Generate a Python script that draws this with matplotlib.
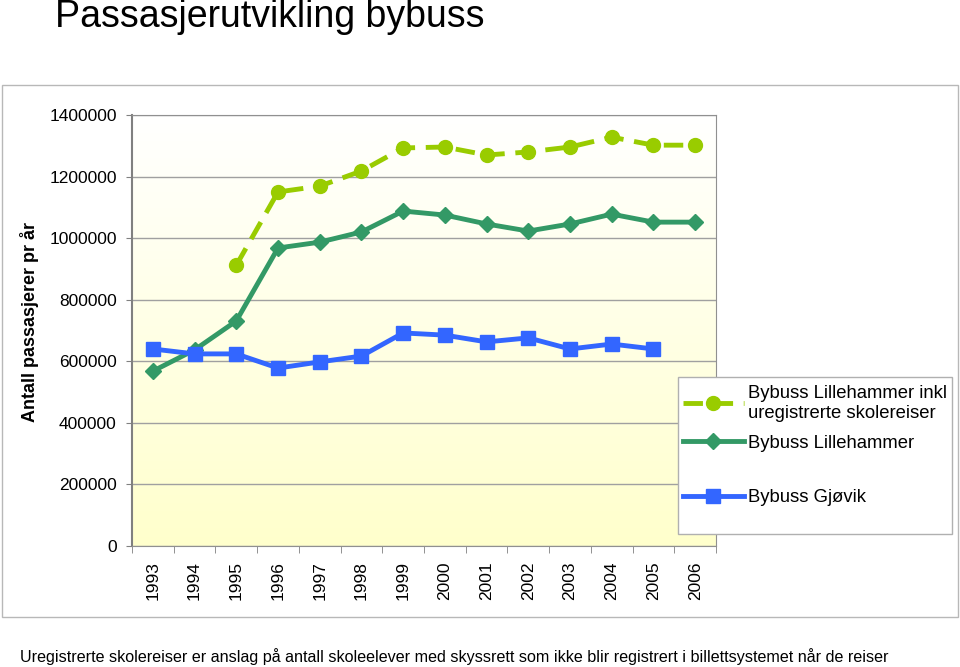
import matplotlib.pyplot as plt
import numpy as np
from matplotlib.patches import Rectangle

plt.rcParams['font.family'] = ['Liberation Sans', 'DejaVu Sans']

aar = ['1993', '1994', '1995', '1996', '1997', '1998', '1999',
       '2000', '2001', '2002', '2003', '2004', '2005', '2006']

# Bybuss Lillehammer inkl uregistrerte skolereiser (fra 1995)
lh_inkl = [np.nan, np.nan, 912000, 1150000, 1169000, 1218000, 1293000,
           1296000, 1270000, 1280000, 1296000, 1328000, 1302000, 1302000]
# Bybuss Lillehammer
lh = [568000, 637000, 731000, 968000, 987000, 1020000, 1088000,
      1075000, 1046000, 1023000, 1046000, 1078000, 1052000, 1052000]
# Bybuss Gjøvik (til 2005)
gjovik = [640000, 624000, 624000, 578000, 598000, 617000, 692000,
          685000, 663000, 676000, 640000, 656000, 640000, np.nan]

fig = plt.figure(figsize=(9.6, 6.67), dpi=100)
ax = fig.add_axes([132/960, 1-546/667, 584/960, 431/667])

# bakgrunn: hvit oppe -> lys gul nede
grad = np.linspace(0, 1, 256)
farger = np.ones((256, 1, 3))
farger[:, 0, 2] = 1 - 0.2 * grad
ax.imshow(farger, extent=[0, 1, 0, 1], transform=ax.transAxes,
          aspect='auto', zorder=0, origin='upper')

x = np.arange(len(aar))
l1, = ax.plot(x, lh_inkl, color='#99CC00', lw=3.5, linestyle=(0, (4, 2.2)),
              marker='o', ms=10, label='Bybuss Lillehammer inkl\nuregistrerte skolereiser', zorder=3)
l2, = ax.plot(x, lh, color='#339966', lw=3.5, marker='D', ms=8,
              label='Bybuss Lillehammer', zorder=3)
l3, = ax.plot(x, gjovik, color='#3366FF', lw=3.5, marker='s', ms=10,
              label='Bybuss Gjøvik', zorder=3)

ax.set_xlim(-0.5, len(aar) - 0.5)
ax.set_ylim(0, 1400000)
ax.set_yticks(np.arange(0, 1400001, 200000))
ax.set_yticklabels([f'{v:d}' for v in range(0, 1400001, 200000)], fontsize=12.5)
ax.yaxis.grid(True, color='#a0a0a0', lw=1)
ax.set_axisbelow(True)
ax.tick_params(axis='y', length=4, pad=7, color='#808080')

ax.set_xticks(x)
ax.set_xticklabels(aar, rotation=90, fontsize=12.5)
ax.set_xticks(np.arange(-0.5, len(aar)), minor=True)
ax.tick_params(axis='x', which='major', length=0, pad=11)
ax.tick_params(axis='x', which='minor', length=5, color='#808080')
for s in ax.spines.values():
    s.set_color('#909090')
ax.spines['left'].set_color('#808080')
ax.spines['left'].set_linewidth(1.5)

fig.text(55/960, 1-17/667, 'Passasjerutvikling bybuss', fontsize=27, va='center', ha='left')
fig.text(30/960, 1-322/667, 'Antall passasjerer pr år', fontsize=13,
         fontweight='bold', rotation=90, va='center', ha='center')
fig.text(20/960, 1-657/667,
         'Uregistrerte skolereiser er anslag på antall skoleelever med skyssrett som ikke blir registrert i billettsystemet når de reiser',
         fontsize=11.6, va='center', ha='left')

fig.patches.append(Rectangle((2/960, 1-617/667), 956/960, 532/667, transform=fig.transFigure,
                             fill=False, edgecolor='#b8b8b8', lw=1))

# legende: ramme + to deler for å få avstanden som i originalen
fig.patches.append(Rectangle((678/960, 1-534/667), 274/960, 157/667, transform=fig.transFigure,
                             facecolor='white', edgecolor='#b0b0b0', lw=1, zorder=4))
legA = fig.legend(handles=[l1, l2], loc='upper left', bbox_to_anchor=(683/960, 1-385/667),
                  fontsize=13.3, frameon=False, handlelength=3.3, handletextpad=0.2,
                  labelspacing=0.72, borderpad=0, borderaxespad=0)
legB = fig.legend(handles=[l3], loc='upper left', bbox_to_anchor=(683/960, 1-489/667),
                  fontsize=13.3, frameon=False, handlelength=3.3, handletextpad=0.2,
                  borderpad=0, borderaxespad=0)
legA.set_zorder(5)
legB.set_zorder(5)

fig.savefig('out.png', dpi=100)
